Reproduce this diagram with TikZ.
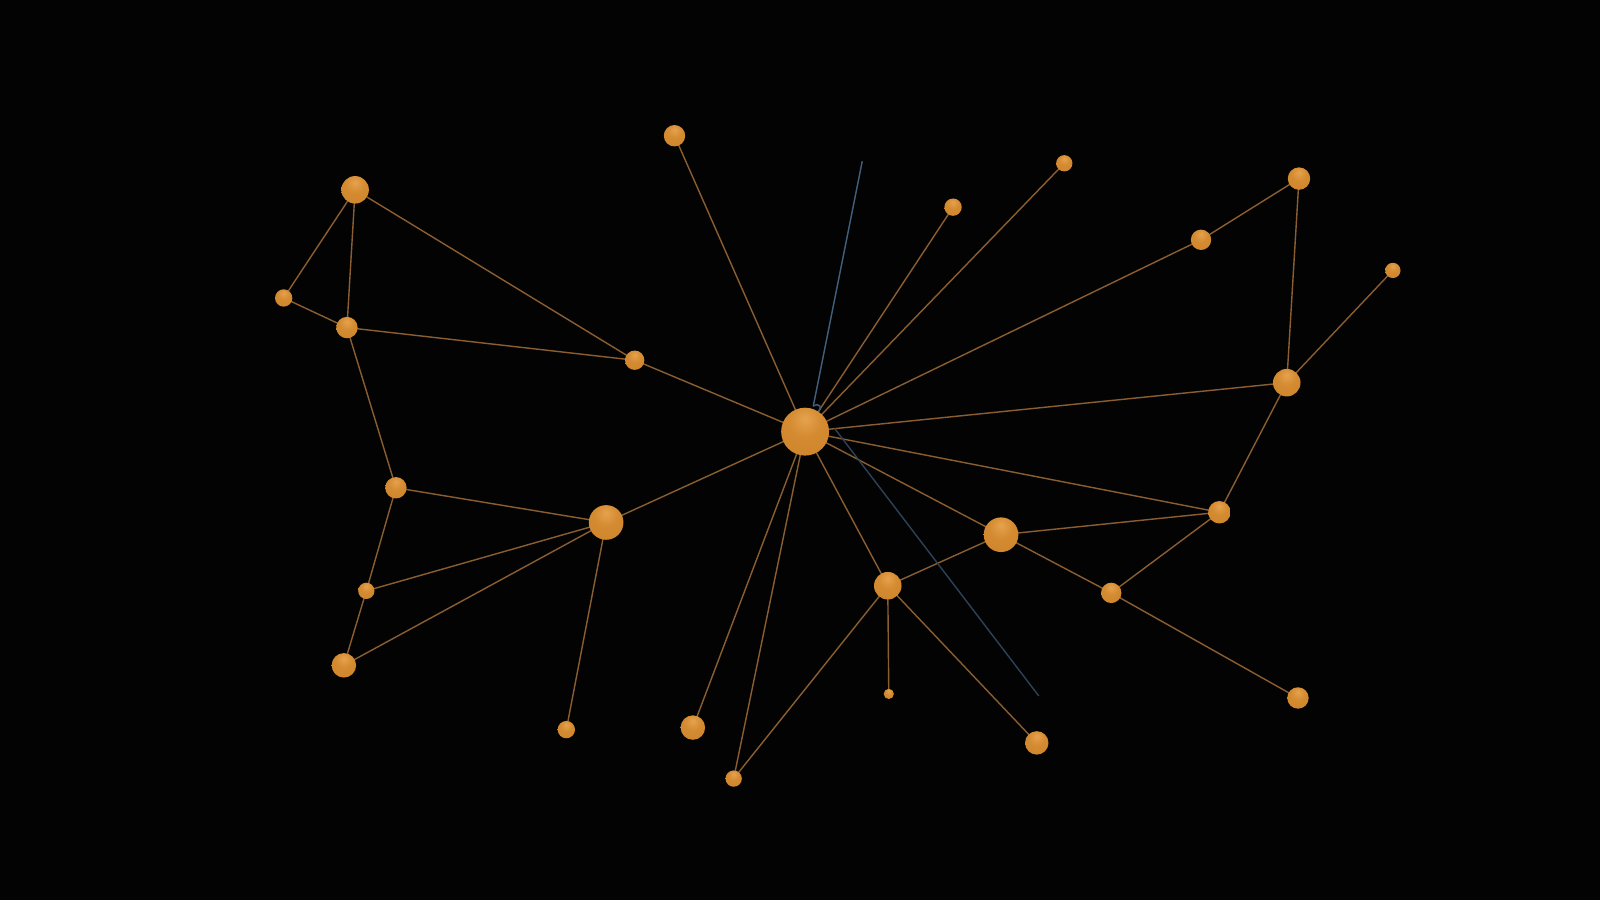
\documentclass[tikz,border=0pt]{standalone}
\usetikzlibrary{calc}
\definecolor{bgc}{HTML}{030303}
\definecolor{edgec}{HTML}{8A5E30}
\definecolor{orbhi}{HTML}{E6A24E}
\definecolor{orbmid}{HTML}{D38A30}
\definecolor{orblo}{HTML}{B06C1E}
\definecolor{bluec}{HTML}{42607E}
\definecolor{bluedk}{HTML}{2C4258}
\pgfdeclareradialshading{orbshade}{\pgfpoint{0bp}{14bp}}{color(0bp)=(orbhi); color(18bp)=(orbmid); color(40bp)=(orbmid!85!orblo); color(62bp)=(orblo); color(100bp)=(orblo)}
\pgfdeclarelayer{bg}
\pgfdeclarelayer{edges}
\pgfsetlayers{bg,edges,main}
\tikzset{
  orbst/.style={circle, inner sep=0pt, shading=orbshade},
  link/.style={draw=edgec, line width=0.4pt},
  bluelink/.style={draw=bluec, line width=0.4pt},
  bluedark/.style={draw=bluedk, line width=0.4pt}
}
\newcommand\orb[4]{\node[orbst, minimum size=#4*0.0204cm] (#1) at (#2,#3) {};}
\begin{document}
\begin{tikzpicture}[x=0.010204cm, y=-0.010204cm]
\begin{pgfonlayer}{bg}
\fill[bgc] (0,0) rectangle (1568,882);
\end{pgfonlayer}
\useasboundingbox (0,0) rectangle (1568,882);
% nodes
\orb{C}{789}{423}{23.5}
\orb{A1}{348}{186}{13.5}
\orb{A2}{278}{292}{8.5}
\orb{A3}{340}{321}{10.5}
\orb{A4}{622}{353}{9.5}
\orb{T1}{661}{133}{10.5}
\orb{B1}{388}{478}{10.5}
\orb{B2}{594}{512}{17}
\orb{B3}{359}{579}{8}
\orb{B4}{337}{652}{12}
\orb{B5}{555}{715}{8.5}
\orb{B6}{679}{713}{12}
\orb{B7}{719}{763}{8}
\orb{N1}{870}{574}{13.5}
\orb{N2}{871}{680}{5}
\orb{N3}{981}{524}{17}
\orb{N4}{1016}{728}{11.5}
\orb{N5}{1089}{581}{10}
\orb{N6}{1195}{502}{11}
\orb{N7}{1272}{684}{10.5}
\orb{R1}{934}{203}{8.5}
\orb{R2}{1043}{160}{8}
\orb{R3}{1177}{235}{10}
\orb{R4}{1273}{175}{11}
\orb{R5}{1365}{265}{7.5}
\orb{R6}{1261}{375}{13.5}
\coordinate (bl1a) at (845,158);
\coordinate (bl1b) at (797,398);
\coordinate (bl2a) at (818,420);
\coordinate (bl2b) at (1018,682);
\begin{pgfonlayer}{edges}
\foreach \a/\b in {A1/A2,A1/A3,A2/A3,A1/A4,A3/A4,A4/C,T1/C,A3/B1,B1/B2,B1/B3,B3/B2,B3/B4,B4/B2,B2/B5,B2/C,C/B6,C/B7,B7/N1,C/N1,N1/N2,N1/N4,N1/N3,C/N3,N3/N6,N3/N5,N5/N6,N5/N7,C/N6,C/R6,R6/N6,R6/R4,R4/R3,R3/C,R6/R5,R2/C,R1/C}
  \path[link] (\a.center) -- (\b.center);
\path[bluelink] (bl1a) -- (bl1b);
\path[bluedark] (bl2a) -- (bl2b);
\path[bluelink] (bl1b) .. controls ($(bl1b)+(6,-4)$) and ($(bl1b)+(10,2)$) .. ($(bl1b)+(4,6)$);
\end{pgfonlayer}
\end{tikzpicture}
\end{document}
